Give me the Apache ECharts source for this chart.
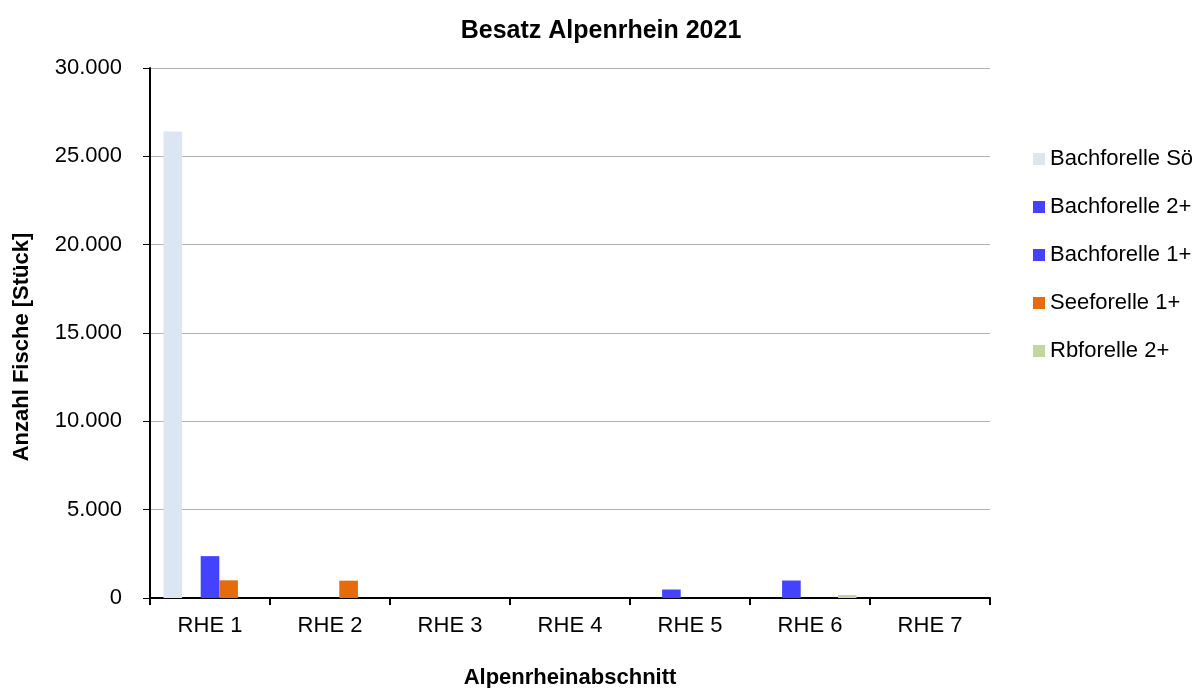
<!DOCTYPE html>
<html>
<head>
<meta charset="utf-8">
<script src="https://cdn.jsdelivr.net/npm/echarts@6/dist/echarts.min.js"></script>
<style>html,body{margin:0;padding:0;background:#fff}#c{width:1203px;height:688px}</style>
</head>
<body>
<div id="c"></div>
<script>
const categories = ['RHE 1','RHE 2','RHE 3','RHE 4','RHE 5','RHE 6','RHE 7'];
const seriesNames = ['Bachforelle Sö','Bachforelle 2+','Bachforelle 1+','Seeforelle 1+','Rbforelle 2+'];
const bachforelleSo = [26400, null, null, null, null, null, null];
const bachforelle2 = [null, null, null, null, 480, 990, null];
const bachforelle1 = [2370, null, null, null, null, null, null];
const seeforelle1 = [1000, 980, null, null, null, null, null];
const rbforelle2 = [null, null, null, null, null, 170, null];
const yTicks = [0, 5000, 10000, 15000, 20000, 25000, 30000];

const colors = ['#dce6f2', '#4343ff', '#4343ff', '#e46c0a', '#c3d69b'];
const seriesData = [bachforelleSo, bachforelle2, bachforelle1, seeforelle1, rbforelle2];
const font = 'Liberation Sans, Arial, sans-serif';

const chart = echarts.init(document.getElementById('c'));
chart.setOption({
  animation: false,
  color: colors,
  title: {
    text: 'Besatz Alpenrhein 2021',
    left: 596, textAlign: 'center', top: 14,
    textStyle: {fontFamily: font, fontSize: 25, fontWeight: 'bold', color: '#000'}
  },
  legend: {
    orient: 'vertical', left: 1028, top: 143,
    itemWidth: 12, itemHeight: 12, itemGap: 26,
    icon: 'rect',
    textStyle: {fontFamily: font, fontSize: 22, color: '#000'},
    data: seriesNames
  },
  grid: {left: 150, right: 213, top: 68, bottom: 90, containLabel: false, outerBoundsMode: 'none'},
  xAxis: {
    type: 'category', data: categories,
    name: 'Alpenrheinabschnitt', nameLocation: 'middle', nameGap: 69,
    nameTextStyle: {fontFamily: font, fontSize: 22, fontWeight: 'bold', color: '#000'},
    axisLine: {lineStyle: {color: '#000', width: 2}},
    axisTick: {show: true, alignWithLabel: false, length: 7, lineStyle: {color: '#000', width: 2}},
    axisLabel: {fontFamily: font, fontSize: 22, color: '#000', margin: 17}
  },
  yAxis: {
    type: 'value', min: 0, max: 30000, interval: 5000,
    name: 'Anzahl Fische [Stück]', nameLocation: 'middle', nameGap: 117, nameRotate: 90,
    nameTextStyle: {fontFamily: font, fontSize: 22, fontWeight: 'bold', color: '#000', padding: [0, 28, 0, 0]},
    axisLine: {show: true, lineStyle: {color: '#000', width: 2}},
    axisTick: {show: true, length: 7, lineStyle: {color: '#000', width: 1}},
    splitLine: {lineStyle: {color: '#b3b3b3', width: 1}},
    axisLabel: {fontFamily: font, fontSize: 22, color: '#000', margin: 28,
      formatter: v => yTicks.includes(v) ? String(v).replace(/\B(?=(\d{3})+(?!\d))/g, '.') : ''}
  },
  series: seriesNames.map((n, i) => ({
    name: n, type: 'bar', data: seriesData[i],
    barGap: '0%', barCategoryGap: '22.5%',
    itemStyle: {color: colors[i]}
  }))
});
</script>
</body>
</html>
